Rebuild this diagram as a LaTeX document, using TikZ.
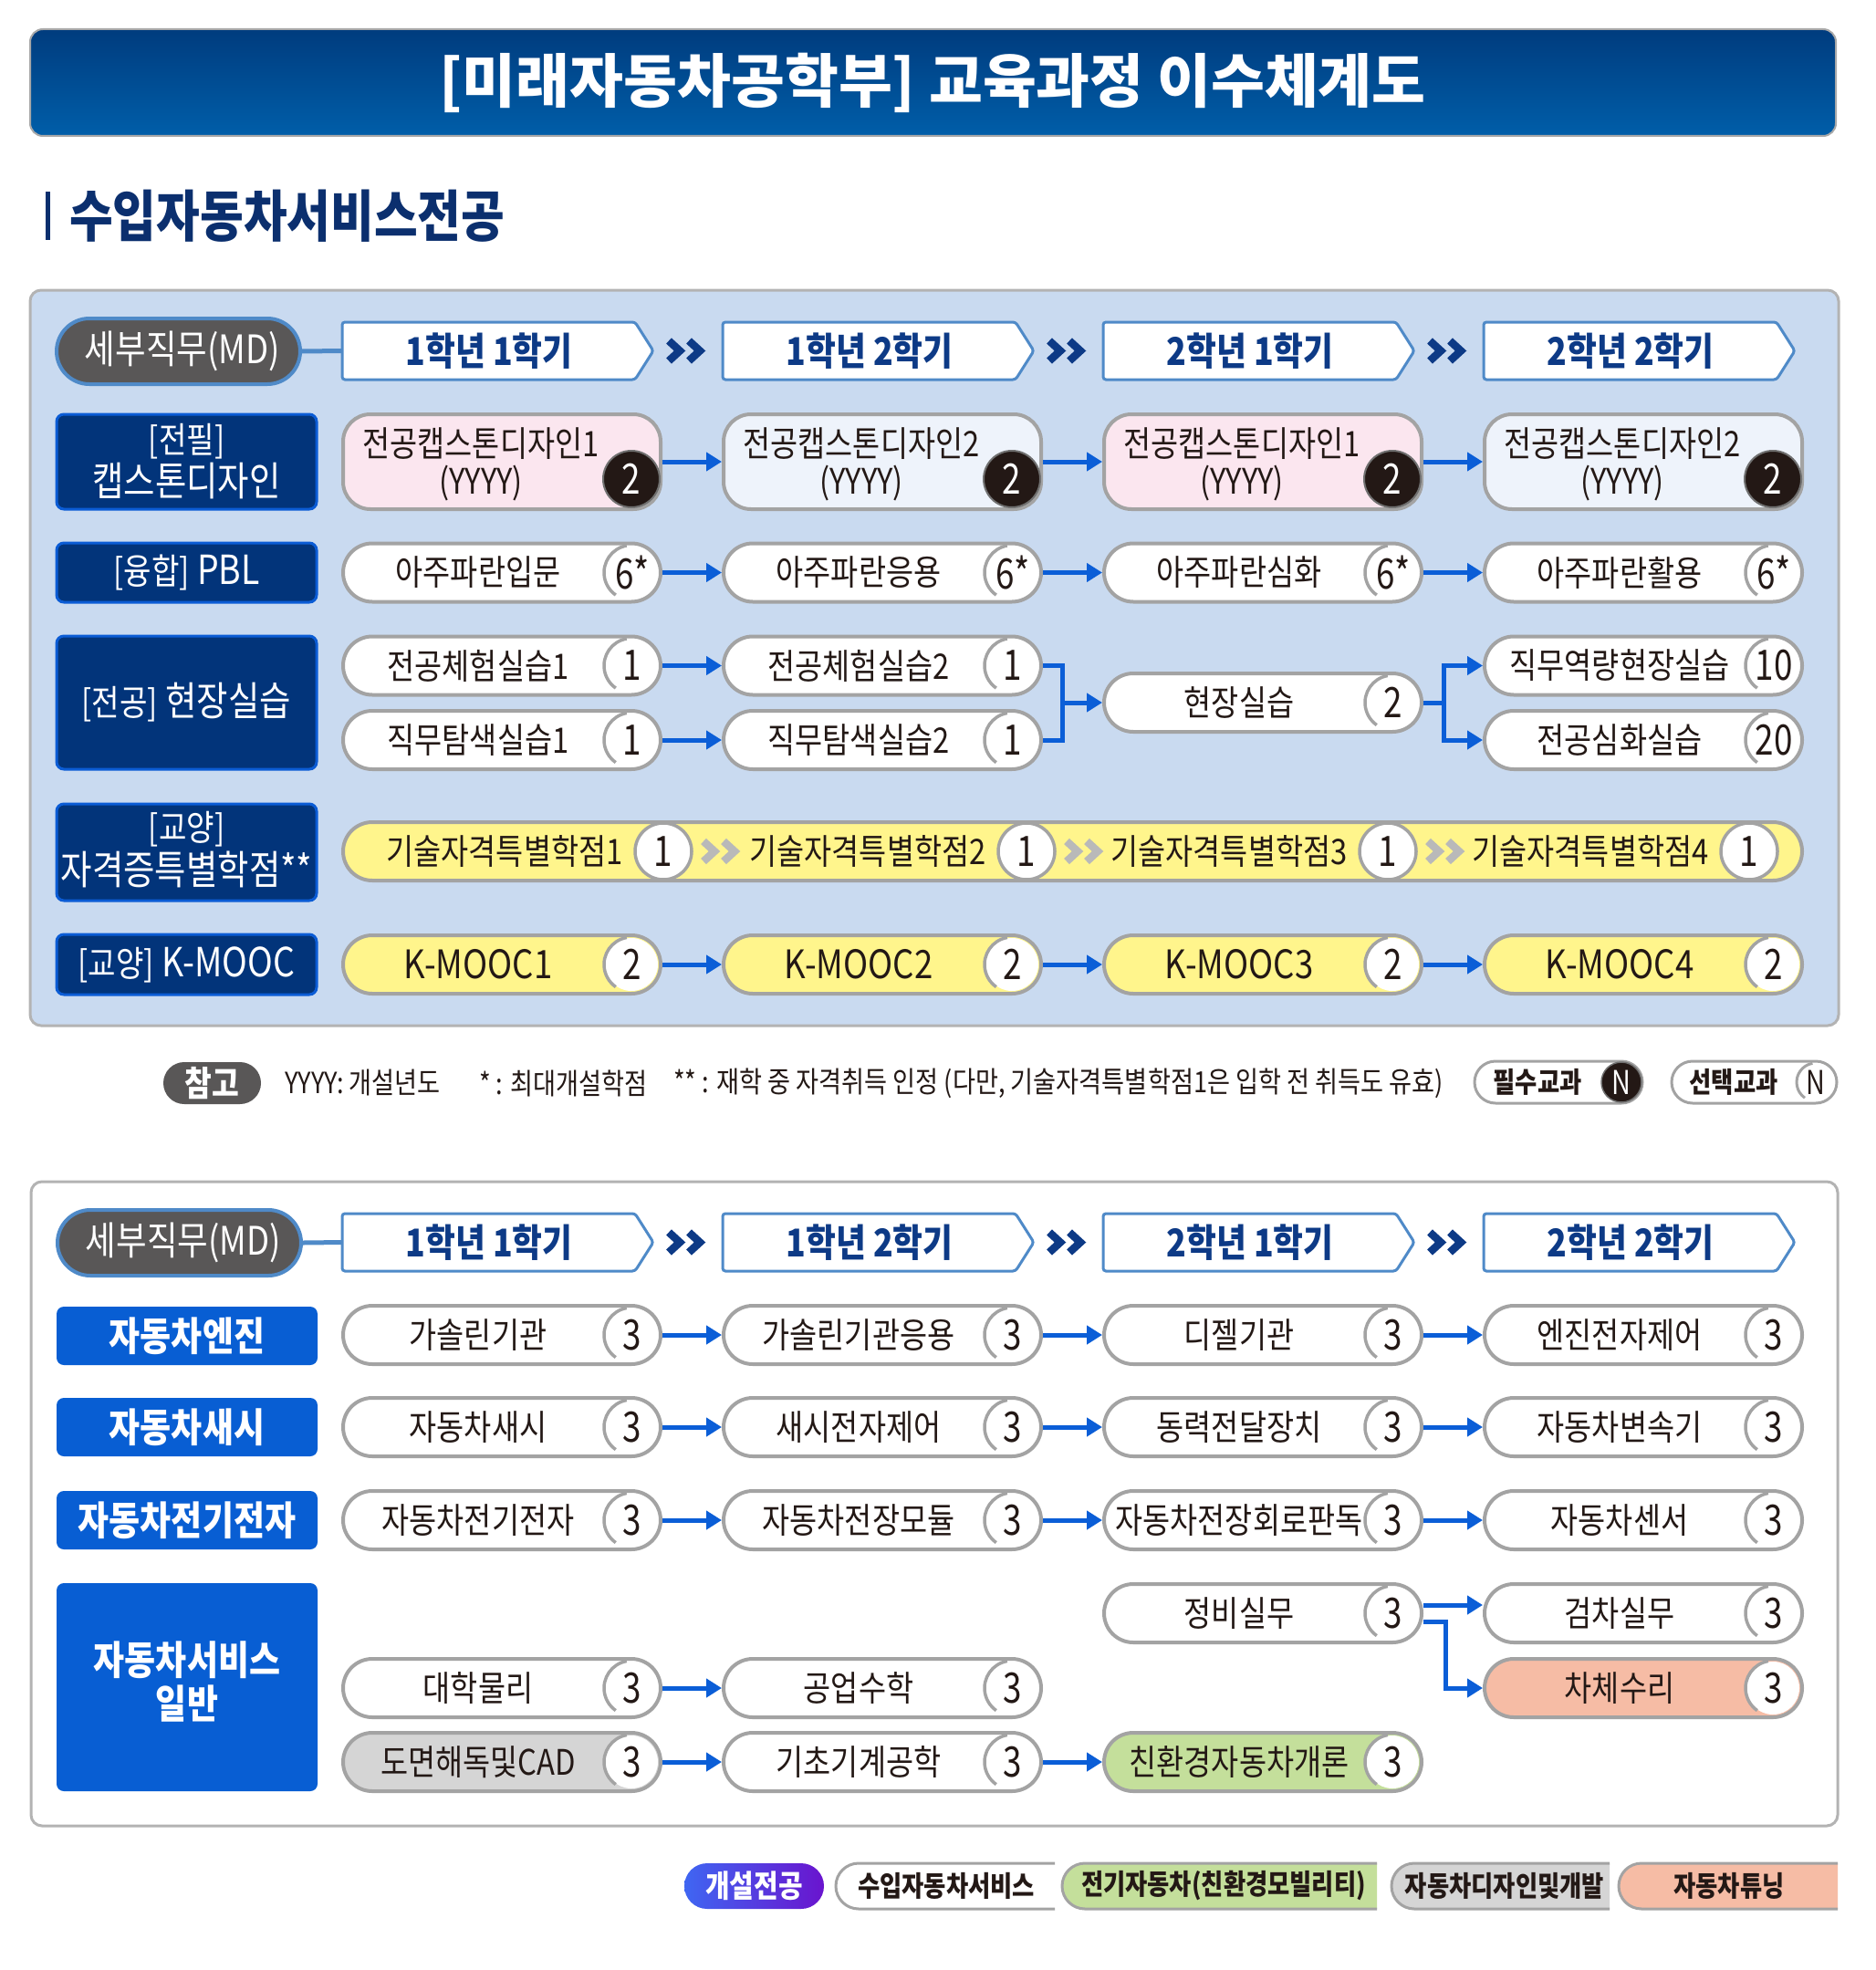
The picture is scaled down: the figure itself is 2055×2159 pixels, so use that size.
\documentclass[tikz,border=0pt]{standalone}
\usepackage{fontspec}
\usetikzlibrary{arrows.meta,calc,shapes.misc}
\newfontfamily\krc{Noto Sans CJK KR}[FakeStretch=0.85]
\newfontfamily\krn{Noto Sans CJK KR}[FakeStretch=0.8]
\newfontfamily\krw{Noto Sans CJK KR}
\newcommand{\fsz}[1]{\fontsize{#1}{#1}\selectfont}
\definecolor{titleA}{HTML}{003C7E}
\definecolor{titleB}{HTML}{005EA9}
\definecolor{titlegray}{HTML}{A8A8A8}
\definecolor{subnavy}{HTML}{0B2F6E}
\definecolor{panelblue}{HTML}{C9DAF0}
\definecolor{panelgray}{HTML}{B3B3B3}
\definecolor{hblue}{HTML}{4F8AC8}
\definecolor{hnavy}{HTML}{0D3A86}
\definecolor{mdgray}{HTML}{595757}
\definecolor{catnavy}{HTML}{02347A}
\definecolor{catblue}{HTML}{0B5CD5}
\definecolor{cattwo}{HTML}{085ED3}
\definecolor{pgray}{HTML}{A3A3A3}
\definecolor{pinkf}{HTML}{FBE6EF}
\definecolor{lbluef}{HTML}{EEF3FB}
\definecolor{yelf}{HTML}{FFF58C}
\definecolor{gryf}{HTML}{D5D5D5}
\definecolor{greenf}{HTML}{C4DF9B}
\definecolor{salmonf}{HTML}{F6BCA5}
\definecolor{ablue}{HTML}{0B5ED7}
\definecolor{tblack}{HTML}{231815}
\definecolor{kgray}{HTML}{707070}
\definecolor{chevgray}{HTML}{B9B9B9}
\definecolor{gradA}{HTML}{3F66F2}
\definecolor{gradB}{HTML}{6A14CE}
\tikzset{
 pill/.style={draw=pgray, line width=4pt, rounded corners=32pt, minimum width=348pt, minimum height=64pt, inner sep=0pt, outer sep=2pt},
 badgew/.style={circle, fill=white, minimum size=58pt, inner sep=0pt},
 badgek/.style={circle, fill=tblack, draw=kgray, line width=2pt, minimum size=62pt, inner sep=0pt},
 arcline/.style={draw=pgray, line width=3.5pt},
 ctext/.style={font=\krc\fsz{38.5}, text=tblack, inner sep=0pt},
 ntext/.style={font=\krn\fsz{46}, text=tblack, inner sep=0pt},
 conn/.style={draw=ablue, line width=5pt, -{Triangle[length=17pt,width=20pt]}},
 connl/.style={draw=ablue, line width=5pt},
 hdrbox/.style={draw=hblue, line width=3pt, fill=white, rounded corners=3pt},
 htext/.style={font=\krc\bfseries\fsz{42}, text=hnavy, inner sep=0pt},
 mdpill/.style={fill=mdgray, draw=hblue, line width=4pt, rounded corners=36pt, minimum width=267pt, minimum height=72pt, inner sep=0pt, outer sep=2pt},
 mdtext/.style={font=\krc\fsz{43}, text=white, inner sep=0pt},
 mdline/.style={draw=hblue, line width=5pt},
 catbox/.style={fill=catnavy, draw=catblue, line width=3pt, rounded corners=8pt, minimum width=285pt, inner sep=0pt},
 cattwobox/.style={fill=cattwo, rounded corners=8pt, minimum width=286pt, inner sep=0pt},
 cattext/.style={font=\krc\fsz{44}, text=white, inner sep=0pt},
 catsmall/.style={font=\krc\fsz{39}, text=white, inner sep=0pt},
 catbold/.style={font=\krc\bfseries\fsz{43.5}, text=white, inner sep=0pt},
 notetext/.style={font=\krc\fsz{32}, text=tblack, inner sep=0pt, anchor=west},
 legtext/.style={font=\krc\bfseries\fsz{31}, text=tblack, inner sep=0pt},
}
% course pill: name, left x, centre y, fill, text, badge
\newcommand{\crs}[6]{%
 \node[pill, fill=#4] (#1) at ({#2+174},{#3}) {};
 \node[badgew] (#1n) at ({#2+316},{#3}) {};
 \draw[arcline] (#1n.center) ++(100:30pt) arc[start angle=100, end angle=235, radius=30pt];
 \node[ctext] (#1t) at ({#2+148},{#3}) {#5};
 \node[ntext] (#1m) at ({#2+317},{#3}) {#6};
}
% tall capstone pill: name, left x, fill, text
\newcommand{\crsT}[4]{%
 \node[pill, fill=#3, minimum height=104pt, rounded corners=30pt] (#1) at ({#2+174},506) {};
 \node[badgek] (#1n) at ({#2+316},525) {};
 \node[ntext, text=white] (#1m) at (#1n.center) {2};
 \node[ctext] (#1t) at ({#2+151},486) {#4};
 \node[ctext] (#1u) at ({#2+151},530) {(YYYY)};
}
% semester header: name, left x, centre y, text
\newcommand{\hdr}[4]{%
 \draw[hdrbox] (#2,{#3-31.5}) -- ({#2+321},{#3-31.5}) -- ({#2+341},#3) -- ({#2+321},{#3+31.5}) -- (#2,{#3+31.5}) -- cycle;
 \node[htext] (#1) at ({#2+161},#3) {#4};
 \coordinate (#1W) at (#2,#3);
}
% double chevron: x, y, colour
\newcommand{\chev}[3]{%
 \draw[#3, line width=8.5pt, line join=miter] ({#1-19},{#2-11}) -- ({#1-7},#2) -- ({#1-19},{#2+11});
 \draw[#3, line width=8.5pt, line join=miter] ({#1+3},{#2-11}) -- ({#1+15},#2) -- ({#1+3},{#2+11});
}
% legend item: name, left, right, fill, text, text x
\newcommand{\legit}[6]{%
 \fill[#4] (#3,2042) -- ({#2+25},2042) arc[start angle=90, end angle=270, radius=25pt] -- (#3,2092) -- cycle;
 \draw[pgray, line width=3pt] (#3,2042) -- ({#2+25},2042) arc[start angle=90, end angle=270, radius=25pt] -- (#3,2092);
 \node[legtext] (#1) at (#6,2067) {#5};
}
\begin{document}
\begin{tikzpicture}[x=1pt,y=-1pt]
\useasboundingbox (0,0) rectangle (2055,2159);
\fill[white] (0,0) rectangle (2055,2159);
% title
\shadedraw[top color=titleA, bottom color=titleB, draw=titlegray, line width=2pt, rounded corners=14pt] (33,32) rectangle (2012,149);
\node[font=\krw\bfseries\fsz{64}, text=white, inner sep=0pt] (title) at (1022,91) {[미래자동차공학부] 교육과정 이수체계도};
% subtitle
\fill[subnavy] (50,210) rectangle (55,263);
\node[font=\krc\bfseries\fsz{61}, text=subnavy, anchor=west, inner sep=0pt] (sub) at (76,237) {수입자동차서비스전공};

% ================= panel 1
\draw[fill=panelblue, draw=panelgray, line width=3pt, rounded corners=12pt] (33,318) rectangle (2015,1124);
\node[mdpill] (md1) at (195.5,385) {};
\node[mdtext] (md1t) at (200,385) {세부직무(MD)};
\hdr{h1}{375}{384.5}{1학년 1학기}
\hdr{h2}{792}{384.5}{1학년 2학기}
\hdr{h3}{1209}{384.5}{2학년 1학기}
\hdr{h4}{1626}{384.5}{2학년 2학기}
\draw[mdline] (md1.east) -- (h1W);
\chev{752}{384.5}{hnavy}
\chev{1169}{384.5}{hnavy}
\chev{1586}{384.5}{hnavy}

% categories
\node[catbox, minimum height=104pt] (k1) at (204.5,506) {};
\node[catsmall] (k1a) at (204.5,484) {[전필]};
\node[cattext] (k1b) at (204.5,527) {캡스톤디자인};
\node[catbox, minimum height=65pt] (k2) at (204.5,627.5) {};
\node[cattext] (k2a) at (204.5,627.5) {{\fsz{39}[융합]} PBL};
\node[catbox, minimum height=146pt] (k3) at (204.5,770) {};
\node[cattext] (k3a) at (204.5,770) {{\fsz{39}[전공]} 현장실습};
\node[catbox, minimum height=106pt] (k4) at (204.5,934) {};
\node[catsmall] (k4a) at (204.5,909) {[교양]};
\node[cattext] (k4b) at (204.5,953) {자격증특별학점**};
\node[catbox, minimum height=66pt] (k5) at (204.5,1057) {};
\node[cattext] (k5a) at (204.5,1057) {{\fsz{39}[교양]} K-MOOC};

% row 1 capstone
\crsT{a1}{376}{pinkf}{전공캡스톤디자인1}
\crsT{a2}{793}{lbluef}{전공캡스톤디자인2}
\crsT{a3}{1210}{pinkf}{전공캡스톤디자인1}
\crsT{a4}{1627}{lbluef}{전공캡스톤디자인2}
% row 2 PBL
\crs{b1}{376}{627.5}{white}{아주파란입문}{6*}
\crs{b2}{793}{627.5}{white}{아주파란응용}{6*}
\crs{b3}{1210}{627.5}{white}{아주파란심화}{6*}
\crs{b4}{1627}{627.5}{white}{아주파란활용}{6*}
% row 3 field practice
\crs{c1}{376}{729.5}{white}{전공체험실습1}{1}
\crs{c2}{793}{729.5}{white}{전공체험실습2}{1}
\crs{d1}{376}{811}{white}{직무탐색실습1}{1}
\crs{d2}{793}{811}{white}{직무탐색실습2}{1}
\crs{e3}{1210}{770}{white}{현장실습}{2}
\crs{c4}{1627}{729.5}{white}{직무역량현장실습}{10}
\crs{d4}{1627}{811}{white}{전공심화실습}{20}
% row 4 certificates
\node[pill, fill=yelf, minimum width=1599pt] (z0) at (1175.5,933) {};
\foreach \i/\x in {1/727,2/1125,3/1521,4/1917}{
 \node[badgew, draw=pgray, line width=3.5pt, minimum size=62pt] (z\i) at (\x,933) {};
 \node[ntext] (zn\i) at (z\i.center) {1};
 \node[ctext] (zt\i) at ({\x-174},933) {기술자격특별학점\i};
}
\chev{790}{933}{chevgray}
\chev{1188}{933}{chevgray}
\chev{1584}{933}{chevgray}
% row 5 K-MOOC
\crs{m1}{376}{1057}{yelf}{{\fsz{43}K-MOOC1}}{2}
\crs{m2}{793}{1057}{yelf}{{\fsz{43}K-MOOC2}}{2}
\crs{m3}{1210}{1057}{yelf}{{\fsz{43}K-MOOC3}}{2}
\crs{m4}{1627}{1057}{yelf}{{\fsz{43}K-MOOC4}}{2}

% connectors panel 1
\foreach \r in {a,b,m}{
 \draw[conn] (\r1.east) -- (\r2.west);
 \draw[conn] (\r2.east) -- (\r3.west);
 \draw[conn] (\r3.east) -- (\r4.west);
}
\draw[conn] (c1.east) -- (c2.west);
\draw[conn] (d1.east) -- (d2.west);
\coordinate (j1) at (1164,770);
\draw[connl] (c2.east) -| (j1);
\draw[connl] (d2.east) -| (j1);
\draw[conn] (j1) -- (e3.west);
\coordinate (j2) at (1582,770);
\draw[connl] (e3.east) -- (j2);
\draw[conn] (j2) |- (c4.west);
\draw[conn] (j2) |- (d4.west);

% note line
\node[fill=mdgray, rounded corners=23pt, minimum width=107pt, minimum height=46pt, inner sep=0pt] (ref) at (232.5,1187) {};
\node[font=\krc\bfseries\fsz{38}, text=white, inner sep=0pt] (reft) at (232.5,1187) {참고};
\node[notetext] (nt1) at (312,1187) {YYYY: 개설년도};
\node[notetext] (nt2) at (525,1187) {* : 최대개설학점};
\node[notetext] (nt3) at (738,1187) {** : 재학 중 자격취득 인정 (다만, 기술자격특별학점1은 입학 전 취득도 유효)};
\node[pill, fill=white, minimum width=184pt, minimum height=46pt, rounded corners=23pt, line width=3pt] (lgA) at (1708,1186) {};
\node[circle, fill=tblack, draw=kgray, line width=1.5pt, minimum size=44pt, inner sep=0pt] (lgAn) at (1777,1186) {};
\node[font=\krn\fsz{36}, text=white, inner sep=0pt] (lgAm) at (lgAn.center) {N};
\node[legtext] (lgAt) at (1685,1186) {필수교과};
\node[pill, fill=white, minimum width=181pt, minimum height=46pt, rounded corners=23pt, line width=3pt] (lgB) at (1922.5,1186) {};
\node[circle, fill=white, minimum size=40pt, inner sep=0pt] (lgBn) at (1990,1186) {};
\draw[arcline, line width=3pt] (lgBn.center) ++(100:21pt) arc[start angle=100, end angle=235, radius=21pt];
\node[font=\krn\fsz{36}, text=tblack, inner sep=0pt] (lgBm) at (lgBn.center) {N};
\node[legtext] (lgBt) at (1900,1186) {선택교과};

% ================= panel 2
\draw[fill=white, draw=panelgray, line width=3pt, rounded corners=12pt] (34,1295) rectangle (2014,2001);
\node[mdpill] (md2) at (196.5,1362) {};
\node[mdtext] (md2t) at (201,1362) {세부직무(MD)};
\hdr{g1}{375}{1361.5}{1학년 1학기}
\hdr{g2}{792}{1361.5}{1학년 2학기}
\hdr{g3}{1209}{1361.5}{2학년 1학기}
\hdr{g4}{1626}{1361.5}{2학년 2학기}
\draw[mdline] (md2.east) -- (g1W);
\chev{752}{1361.5}{hnavy}
\chev{1169}{1361.5}{hnavy}
\chev{1586}{1361.5}{hnavy}

\node[cattwobox, minimum height=64pt] (n1) at (205,1464) {};
\node[catbold] (n1t) at (205,1464) {자동차엔진};
\node[cattwobox, minimum height=64pt] (n2) at (205,1564) {};
\node[catbold] (n2t) at (205,1564) {자동차새시};
\node[cattwobox, minimum height=64pt] (n3) at (205,1666) {};
\node[catbold] (n3t) at (205,1666) {자동차전기전자};
\node[cattwobox, minimum height=228pt] (n4) at (205,1849) {};
\node[catbold] (n4t) at (205,1819) {자동차서비스};
\node[catbold] (n4u) at (205,1867) {일반};

\crs{p1}{376}{1463}{white}{가솔린기관}{3}
\crs{p2}{793}{1463}{white}{가솔린기관응용}{3}
\crs{p3}{1210}{1463}{white}{디젤기관}{3}
\crs{p4}{1627}{1463}{white}{엔진전자제어}{3}
\crs{q1}{376}{1564}{white}{자동차새시}{3}
\crs{q2}{793}{1564}{white}{새시전자제어}{3}
\crs{q3}{1210}{1564}{white}{동력전달장치}{3}
\crs{q4}{1627}{1564}{white}{자동차변속기}{3}
\crs{r1}{376}{1666}{white}{자동차전기전자}{3}
\crs{r2}{793}{1666}{white}{자동차전장모듈}{3}
\crs{r3}{1210}{1666}{white}{자동차전장회로판독}{3}
\crs{r4}{1627}{1666}{white}{자동차센서}{3}
\crs{s3}{1210}{1768}{white}{정비실무}{3}
\crs{s4}{1627}{1768}{white}{검차실무}{3}
\crs{t1}{376}{1850}{white}{대학물리}{3}
\crs{t2}{793}{1850}{white}{공업수학}{3}
\crs{t4}{1627}{1850}{salmonf}{차체수리}{3}
\crs{u1}{376}{1931}{gryf}{도면해독및CAD}{3}
\crs{u2}{793}{1931}{white}{기초기계공학}{3}
\crs{u3}{1210}{1931}{greenf}{친환경자동차개론}{3}

\foreach \r in {p,q,r}{
 \draw[conn] (\r1.east) -- (\r2.west);
 \draw[conn] (\r2.east) -- (\r3.west);
 \draw[conn] (\r3.east) -- (\r4.west);
}
\draw[conn] ($(s3.east)+(0,-9)$) -- ($(s4.west)+(0,-9)$);
\coordinate (j3) at (1584,1777);
\draw[conn] (s3.east |- j3) -- (j3) |- (t4.west);
\draw[conn] (t1.east) -- (t2.west);
\draw[conn] (u1.east) -- (u2.west);
\draw[conn] (u2.east) -- (u3.west);

% bottom legend
\node[rounded corners=25pt, minimum width=153pt, minimum height=50pt, left color=gradA, right color=gradB, inner sep=0pt] (lg0) at (826.5,2067) {};
\node[legtext, text=white, font=\krc\bfseries\fsz{34}] (lg0t) at (826.5,2067) {개설전공};
\legit{lg1}{916}{1156}{white}{수입자동차서비스}{1037}
\legit{lg2}{1164}{1509}{greenf}{전기자동차(친환경모빌리티)}{1341}
\legit{lg3}{1525}{1764}{gryf}{자동차디자인및개발}{1649}
\legit{lg4}{1774}{2014}{salmonf}{자동차튜닝}{1895}
\end{tikzpicture}
\end{document}
